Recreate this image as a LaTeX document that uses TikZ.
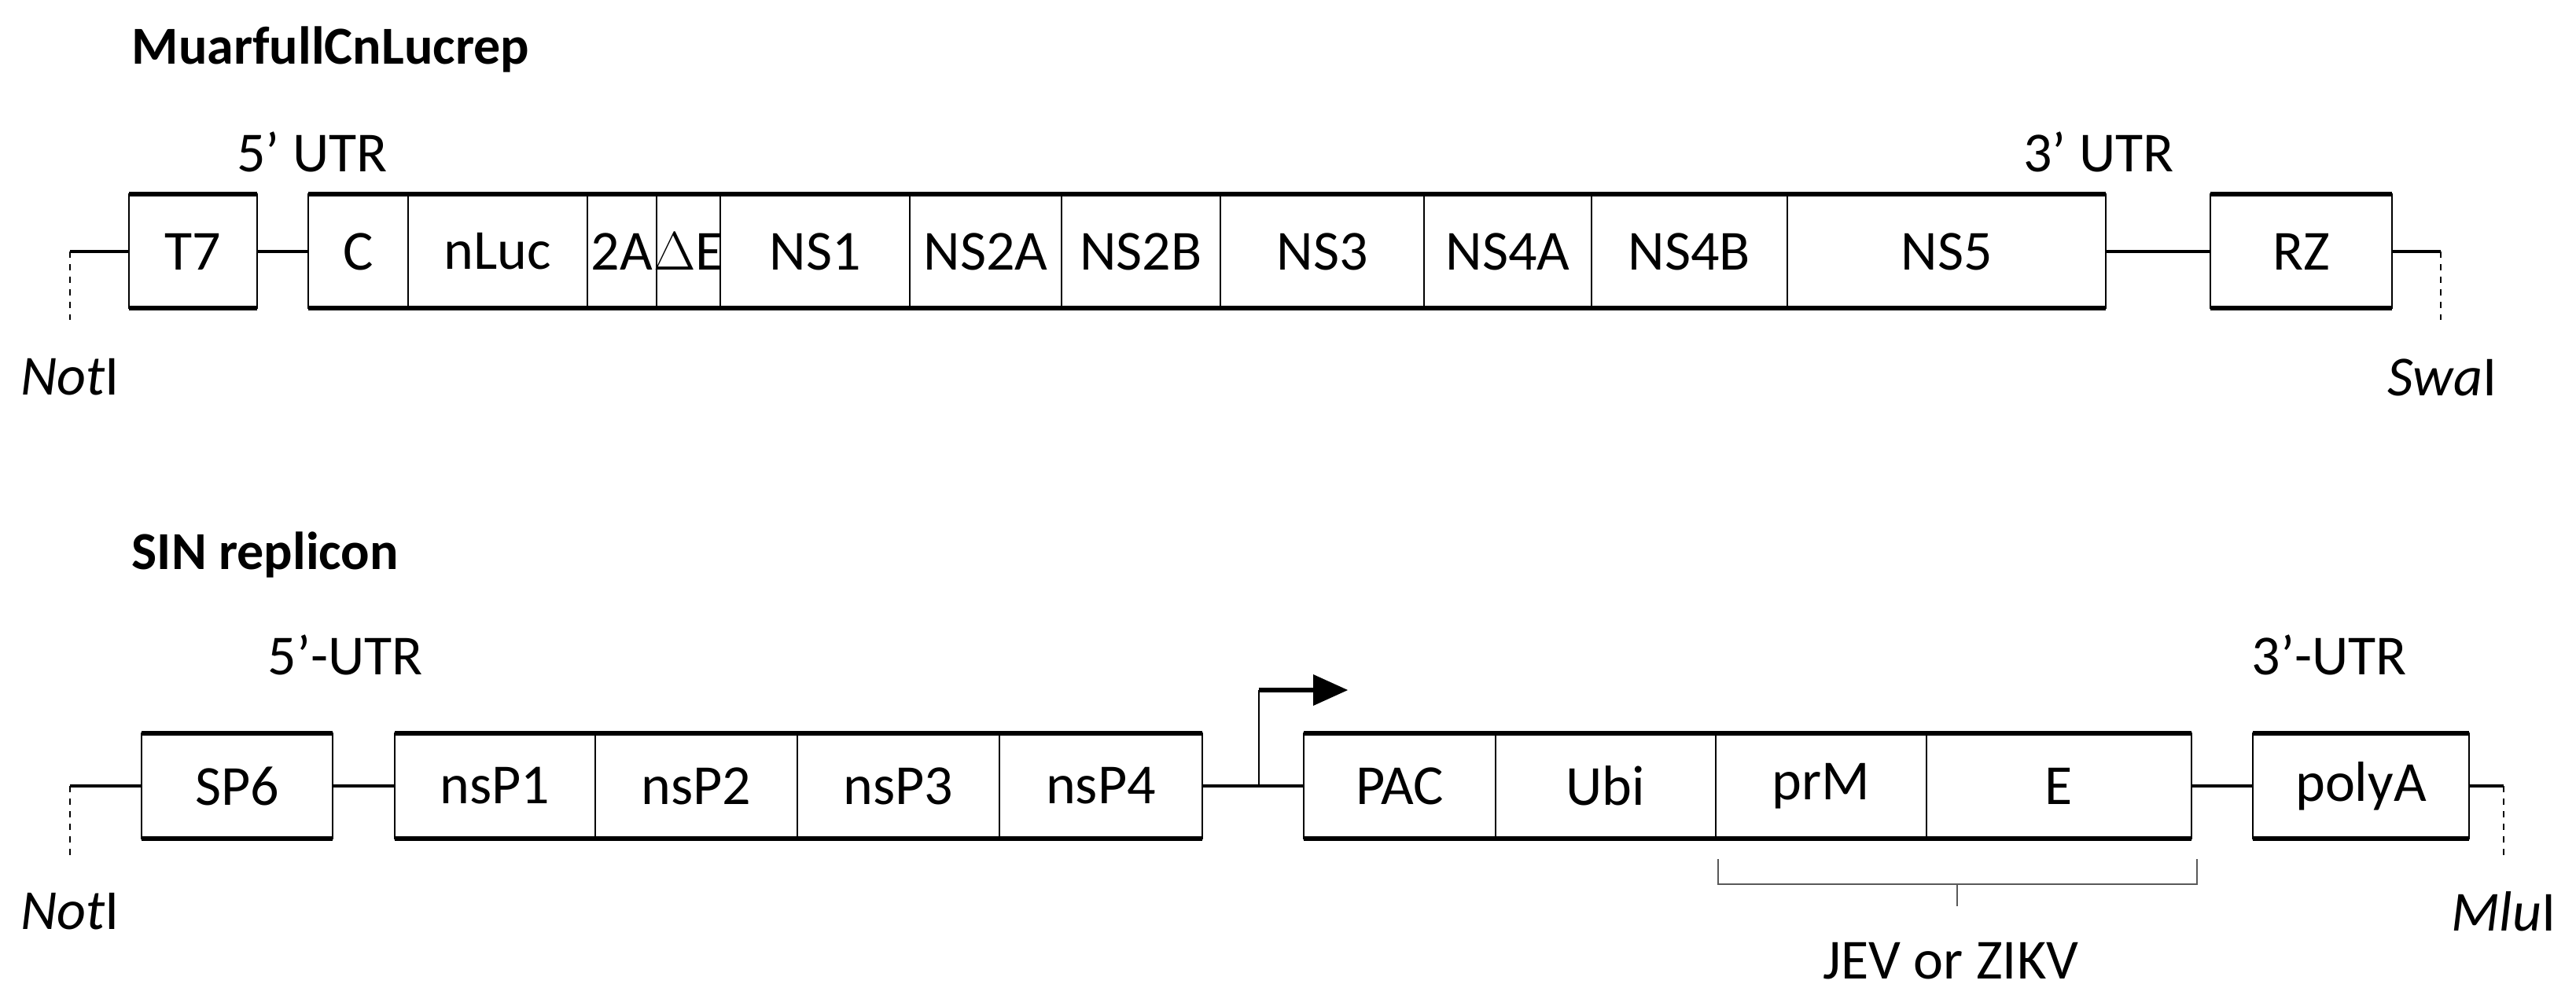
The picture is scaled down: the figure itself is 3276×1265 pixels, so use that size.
\documentclass[tikz,border=0pt]{standalone}
\usepackage{fontspec}
\setmainfont{Carlito}
\begin{document}
\begin{tikzpicture}[x=0.25pt,y=-0.25pt,
  lbl/.style={inner sep=0pt,font=\fontsize{18}{20}\selectfont},
  ttl/.style={inner sep=0pt,anchor=west,font=\bfseries\fontsize{17}{20}\selectfont},
  seg/.style={draw,line width=0.6pt,minimum height=0pt},
  bar/.style={line width=1.5pt},
  wire/.style={line width=1.2pt},
  cut/.style={line width=0.5pt,dash pattern=on 2pt off 2pt}]
\useasboundingbox (0,0) rectangle (3276,1265);
\node[ttl] (t1) at (167,63) {MuarfullCnLucrep};
\node[ttl] (t2) at (167,706) {SIN replicon};
% top row
\def\ya{247}\def\yb{392}\def\yc{320}
\foreach \n/\a/\b/\t in {T7/164/327/T7, C/392/519/C, nLuc/519/747/nLuc, tA/747/835/2A, dE/835/916/$\Delta$E, NS1/916/1157/NS1, NS2A/1157/1350/NS2A, NS2B/1350/1552/NS2B, NS3/1552/1811/NS3, NS4A/1811/2024/NS4A, NS4B/2024/2273/NS4B, NS5/2273/2678/NS5, RZ/2811/3042/RZ}{
  \draw[line width=0.6pt] (\a,\ya) rectangle (\b,\yb);
  \draw[bar] (\a,\ya) -- (\b,\ya) (\a,\yb) -- (\b,\yb);
  \node[lbl] (\n) at ({(\a+\b)/2},\yc) {\t};
}
\coordinate (L1) at (89,\yc); \coordinate (R1) at (3104,\yc);
\coordinate (L1d) at (89,407); \coordinate (R1d) at (3104,407);
\draw[wire] (L1) -- (T7.center -| 164,0);
\draw[wire] (327,\yc) -- (392,\yc);
\draw[wire] (2678,\yc) -- (2811,\yc);
\draw[wire] (3042,\yc) -- (R1);
\draw[cut] (L1) -- (L1d); \draw[cut] (R1) -- (R1d);
\node[lbl] (u5a) at (397,193) {5’ UTR};
\node[lbl] (u3a) at (2669,193) {3’ UTR};
\node[lbl] (n1) at (89,480) {\textit{Not}I};
\node[lbl] (s1) at (3106,480) {\textit{Swa}I};
% bottom row
\def\ya{933}\def\yb{1067}\def\yc{1000}
\foreach \n/\a/\b/\t in {SP6/180/423/SP6, P1/502/757/nsP1, P2/757/1014/nsP2, P3/1014/1271/nsP3, P4/1271/1529/nsP4, PAC/1658/1902/PAC, Ubi/1902/2182/Ubi, prM/2182/2450/prM, E/2450/2787/E, pA/2865/3140/polyA}{
  \draw[line width=0.6pt] (\a,\ya) rectangle (\b,\yb);
  \draw[bar] (\a,\ya) -- (\b,\ya) (\a,\yb) -- (\b,\yb);
  \node[lbl] (\n) at ({(\a+\b)/2},\yc) {\t};
}
\coordinate (L2) at (89,\yc); \coordinate (R2) at (3184,\yc);
\coordinate (L2d) at (89,1093); \coordinate (R2d) at (3184,1093);
\draw[wire] (L2) -- (180,\yc);
\draw[wire] (423,\yc) -- (502,\yc);
\draw[wire] (1529,\yc) -- (1658,\yc);
\draw[wire] (2787,\yc) -- (2865,\yc);
\draw[wire] (3140,\yc) -- (R2);
\draw[cut] (L2) -- (L2d); \draw[cut] (R2) -- (R2d);
\coordinate (pr) at (1601,\yc); \coordinate (pt) at (1601,878);
\draw[line width=0.6pt] (pr) -- (pt);
\draw[line width=1.5pt] (pt) -- (1670,878);
\fill (1670,858) -- (1714,878) -- (1670,898) -- cycle;
\draw[gray!70!black,line width=0.7pt] (2185,1093) -- (2185,1125) -- (2794,1125) -- (2794,1093);
\draw[gray!70!black,line width=0.6pt] (2489,1125) -- (2489,1153);
\node[lbl] (jz) at (2481,1223) {JEV or ZIKV};
\node[lbl] (u5b) at (439,833) {5’-UTR};
\node[lbl] (u3b) at (2962,833) {3’-UTR};
\node[lbl] (n2) at (89,1160) {\textit{Not}I};
\node[lbl] (m2) at (3184,1160) {\textit{Mlu}I};
\end{tikzpicture}
\end{document}
